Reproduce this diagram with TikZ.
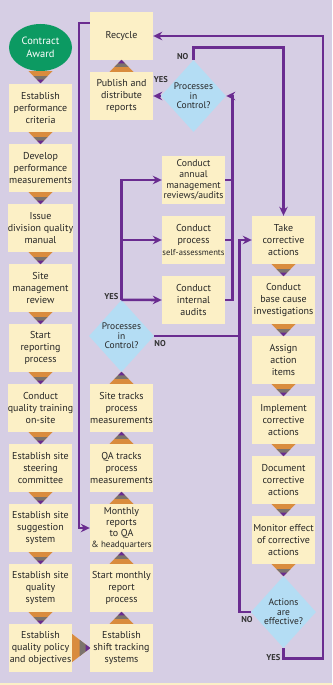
\documentclass[tikz,border=0pt]{standalone}
\usepackage{fontspec}
\setmainfont{PT Sans}
\usetikzlibrary{shapes.geometric,arrows.meta,calc}
\definecolor{bg}{HTML}{D6CEE4}
\definecolor{boxc}{HTML}{FCF0C6}
\definecolor{diac}{HTML}{B4DDF4}
\definecolor{grn}{HTML}{0C9A62}
\definecolor{pur}{HTML}{6A2C90}
\definecolor{org}{HTML}{D98C3E}
\definecolor{gry}{HTML}{7B736C}
\definecolor{txt}{HTML}{262626}
\begin{document}
\begin{tikzpicture}[x=1pt,y=-1pt,
 box/.style={rectangle, fill=boxc, minimum width=63pt, minimum height=48pt, inner sep=0pt, align=center, font=\fontsize{10}{12}\selectfont, text=txt},
 dia/.style={diamond, fill=diac, minimum width=63pt, minimum height=72pt, inner sep=0pt, align=center, font=\fontsize{9.5}{9.6}\selectfont, text=txt},
 flow/.style={draw=pur, line width=2.6pt},
 arr/.style={flow, -{Stealth[length=9pt,width=8.5pt]}},
 lbl/.style={font=\bfseries\fontsize{8.5}{9}\selectfont, text=black!80, inner sep=0pt},
 downarr/.pic={
  \fill[org] (-12,0) -- (12,0) -- (0,12) -- cycle;
  \fill[gry] (-7,5) -- (7,5) -- (0,12) -- cycle;
  \fill[pur] (-3.5,8.5) -- (3.5,8.5) -- (0,12) -- cycle;
 },
 uparr/.pic={
  \fill[org] (-12,0) -- (12,0) -- (0,-12) -- cycle;
  \fill[gry] (-7,-5) -- (7,-5) -- (0,-12) -- cycle;
  \fill[pur] (-3.5,-8.5) -- (3.5,-8.5) -- (0,-12) -- cycle;
 },
 rightarr/.pic={
  \fill[org] (0,-14) -- (0,14) -- (18,0) -- cycle;
  \fill[gry] (7.5,-8.2) -- (7.5,8.2) -- (18,0) -- cycle;
  \fill[pur] (13.5,-3.5) -- (13.5,3.5) -- (18,0) -- cycle;
 }
]
\useasboundingbox (0,0) rectangle (332,685);
\fill[bg] (0,0) rectangle (332,685);
\fill[boxc] (0,683) rectangle (332,685);

% left column
\node[ellipse, fill=grn, minimum width=63pt, minimum height=47pt, inner sep=0pt, text=white, align=center, font=\fontsize{10.5}{12.5}\selectfont] (ca) at (40.5,47.5) {Contract\\Award};
\node[box] (b1) at (40.5,108) {Establish\\performance\\criteria};
\node[box] (b2) at (40.5,168) {Develop\\performance\\measurements};
\node[box] (b3) at (40.5,228) {Issue\\division quality\\manual};
\node[box] (b4) at (40.5,288) {Site\\management\\review};
\node[box] (b5) at (40.5,348) {Start\\reporting\\process};
\node[box] (b6) at (40.5,408) {Conduct\\quality training\\on-site};
\node[box] (b7) at (40.5,468) {Establish site\\steering\\committee};
\node[box] (b8) at (40.5,528) {Establish site\\suggestion\\system};
\node[box] (b9) at (40.5,588) {Establish site\\quality\\system};
\node[box] (b10) at (40.5,648) {Establish\\quality policy\\and objectives};

% second column
\node[box] (rec) at (121.5,36) {Recycle};
\node[box] (pub) at (121.5,96) {Publish and\\distribute\\reports};
\node[dia] (d2) at (121.5,336) {Processes\\in\\Control?};
\node[box] (site) at (121.5,408) {Site tracks\\process\\measurements};
\node[box] (qa) at (121.5,468) {QA tracks\\process\\measurements};
\node[box, font=\fontsize{10}{11}\selectfont] (mon2) at (121.5,528) {Monthly\\reports\\to QA\\{\fontsize{9}{11}\selectfont\& headquarters}};
\node[box] (stm) at (121.5,588) {Start monthly\\report\\process};
\node[box] (shift) at (121.5,648) {Establish\\shift tracking\\systems};

% third column
\node[dia] (d1) at (193.5,96) {Processes\\in\\Control?};
\node[box, font=\fontsize{9.7}{10.7}\selectfont] (ann) at (193.5,180) {Conduct\\annual\\management\\reviews/audits};
\node[box] (proc) at (193.5,240) {Conduct\\process\\{\fontsize{8.6}{12}\selectfont self-assessments}};
\node[box] (int) at (193.5,300) {Conduct\\internal\\audits};

% fourth column
\node[box] (take) at (283.5,240) {Take\\corrective\\actions};
\node[box] (base) at (283.5,300) {Conduct\\base cause\\investigations};
\node[box] (asg) at (283.5,360) {Assign\\action\\items};
\node[box] (impl) at (283.5,420) {Implement\\corrective\\actions};
\node[box] (doc) at (283.5,480) {Document\\corrective\\actions};
\node[box] (mon) at (283.5,540) {Monitor effect\\of corrective\\actions};
\node[dia] (d4) at (283.5,612) {Actions\\are\\effective?};

% step triangles
\pic at (ca.south) {downarr};
\foreach \n in {b1,b2,b3,b4,b5,b6,b7,b8,b9} {\pic at (\n.south) {downarr};}
\foreach \n in {pub,site,qa,mon2,stm,shift} {\pic at (\n.north) {uparr};}
\foreach \n in {take,base,asg,impl,doc,mon} {\pic at (\n.south) {downarr};}
\pic at (b10.east) {rightarr};

% connectors
\coordinate (vx) at ([xshift=-11pt]take.west);
\draw[arr] ([yshift=13pt]rec.west) -- ++(-11,0) |- (mon2.west);
\draw[arr] (d2.north) |- (ann.west);
\draw[arr] (d2.north |- proc.west) -- (proc.west);
\draw[arr] (d2.north) -- (int.west);
\draw[flow] (d2.east) -- (d2.east -| vx);
\draw[arr] (d4.west) -- ++(-11,0) |- (take.west);
\draw[flow] (ann.east) -- ++(7,0);
\draw[flow] (proc.east) -- ++(7,0);
\draw[arr] (int.east) -- ++(7,0) |- (d1.east);
\draw[arr] (d1.north) -- ++(0,-12) -| (take.north);
\draw[arr] (d1.west) -- (pub.east);
\draw[arr] (d4.south) |- ++(39.5,10) |- (rec.east);

% labels
\node[lbl, anchor=east] at ([xshift=-3pt,yshift=3pt]d2.north) {YES};
\node[lbl, anchor=west] at ([yshift=-8pt]d2.east) {NO};
\node[lbl, anchor=east] at ([xshift=-5pt,yshift=3pt]d1.north) {NO};
\node[lbl] at ([yshift=16pt]d1.west) {YES};
\node[lbl, anchor=east] at ([xshift=2pt,yshift=-8pt]d4.west) {NO};
\node[lbl, anchor=east] at ([xshift=-3pt,yshift=-9pt]d4.south) {YES};
\end{tikzpicture}
\end{document}
